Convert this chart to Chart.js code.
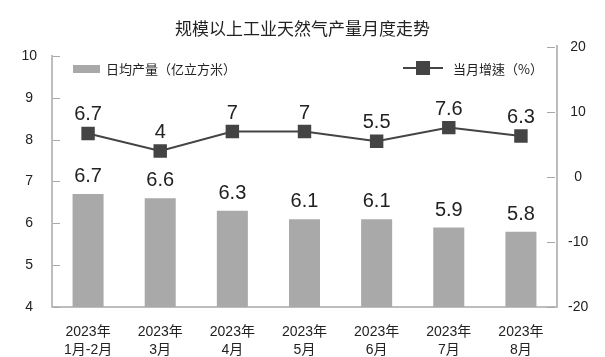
<!DOCTYPE html>
<html>
<head>
<meta charset="utf-8">
<script src="https://cdn.jsdelivr.net/npm/chart.js@4.4.0/dist/chart.umd.min.js"></script>
<style>
html,body{margin:0;padding:0;background:#fff;}
canvas{display:block;}
</style>
</head>
<body>
<canvas id="c" width="605" height="357"></canvas>
<script>
const chartTitle = '规模以上工业天然气产量月度走势';
const categories = [
  ['2023年', '1月-2月'],
  ['2023年', '3月'],
  ['2023年', '4月'],
  ['2023年', '5月'],
  ['2023年', '6月'],
  ['2023年', '7月'],
  ['2023年', '8月']
];
const barLabel = '日均产量（亿立方米）';
const dailyOutput = [6.7, 6.6, 6.3, 6.1, 6.1, 5.9, 5.8];
const lineLabel = '当月增速（%）';
const monthlyGrowth = [6.7, 4, 7, 7, 5.5, 7.6, 6.3];
const leftTicks = [4, 5, 6, 7, 8, 9, 10];
const rightTicks = [-20, -10, 0, 10, 20];

const NUM_FONT = '"Liberation Sans", Arial, "Noto Sans CJK SC", sans-serif';
const CJK_FONT = '"Liberation Sans", "Noto Sans CJK SC", sans-serif';
const LEGEND_FONT = '"Noto Sans CJK TC", "Noto Sans CJK SC", sans-serif';
const BAR_COLOR = '#a9a9a9';
const LINE_COLOR = '#444444';
const AXIS_COLOR = '#a8a8a8';
const TEXT_COLOR = '#222222';

const axesPlugin = {
  id: 'axesPlugin',
  beforeDatasetsDraw(chart) {
    const ctx = chart.ctx;
    const ca = chart.chartArea;
    const yl = chart.scales.y, yr = chart.scales.y1;
    ctx.save();
    ctx.strokeStyle = AXIS_COLOR;
    ctx.lineWidth = 1.5;
    ctx.beginPath();
    ctx.moveTo(ca.left, yl.getPixelForValue(leftTicks[leftTicks.length - 1]) - 1);
    ctx.lineTo(ca.left, ca.bottom);
    ctx.lineTo(ca.right, ca.bottom);
    ctx.lineTo(ca.right, yr.getPixelForValue(rightTicks[rightTicks.length - 1]) - 2);
    ctx.stroke();
    ctx.lineWidth = 1;
    leftTicks.forEach(v => {
      const y = Math.round(yl.getPixelForValue(v)) + 0.5;
      ctx.beginPath();
      ctx.moveTo(ca.left + 1, y);
      ctx.lineTo(ca.left + 8, y);
      ctx.stroke();
    });
    rightTicks.forEach(v => {
      const y = Math.round(yr.getPixelForValue(v)) + 0.5;
      ctx.beginPath();
      ctx.moveTo(ca.right - 10, y);
      ctx.lineTo(ca.right - 2, y);
      ctx.stroke();
    });
    ctx.restore();
  }
};

const labelsPlugin = {
  id: 'labelsPlugin',
  afterDatasetsDraw(chart) {
    const ctx = chart.ctx;
    ctx.save();
    ctx.font = '20px ' + NUM_FONT;
    ctx.fillStyle = TEXT_COLOR;
    ctx.textAlign = 'center';
    ctx.textBaseline = 'alphabetic';
    chart.data.datasets.forEach((ds, i) => {
      const meta = chart.getDatasetMeta(i);
      meta.data.forEach((el, j) => {
        const txt = String(ds.data[j]);
        const off = ds.type === 'bar' ? 12 : 13;
        ctx.fillText(txt, el.x, el.y - off);
      });
    });
    ctx.restore();
  }
};

const legendPlugin = {
  id: 'legendPlugin',
  afterDraw(chart) {
    const ctx = chart.ctx;
    ctx.save();
    ctx.font = '13px ' + LEGEND_FONT;
    ctx.textBaseline = 'middle';
    ctx.textAlign = 'left';
    ctx.fillStyle = BAR_COLOR;
    ctx.fillRect(73, 65, 27, 8);
    ctx.fillStyle = TEXT_COLOR;
    ctx.fillText(barLabel, 106, 69);
    ctx.strokeStyle = LINE_COLOR;
    ctx.lineWidth = 2;
    ctx.beginPath();
    ctx.moveTo(403, 68);
    ctx.lineTo(443, 68);
    ctx.stroke();
    ctx.fillStyle = LINE_COLOR;
    ctx.fillRect(416, 61, 14, 14);
    ctx.fillStyle = TEXT_COLOR;
    ctx.fillText(lineLabel, 453, 69);
    ctx.restore();
  }
};

new Chart(document.getElementById('c'), {
  data: {
    labels: categories,
    datasets: [
      {
        type: 'line',
        label: lineLabel,
        data: monthlyGrowth,
        yAxisID: 'y1',
        borderColor: LINE_COLOR,
        borderWidth: 2,
        backgroundColor: LINE_COLOR,
        pointStyle: 'rect',
        pointRadius: 9.5,
        pointBorderWidth: 0,
        pointBackgroundColor: LINE_COLOR,
        tension: 0,
        order: 1
      },
      {
        type: 'bar',
        label: barLabel,
        data: dailyOutput,
        yAxisID: 'y',
        backgroundColor: BAR_COLOR,
        borderWidth: 0,
        categoryPercentage: 1,
        barPercentage: 0.43,
        order: 2
      }
    ]
  },
  options: {
    responsive: false,
    animation: false,
    layout: { padding: { left: 0, right: 0, top: 0, bottom: 0 } },
    plugins: {
      legend: { display: false },
      tooltip: { enabled: false },
      title: {
        display: true,
        text: chartTitle,
        color: TEXT_COLOR,
        font: { family: '"Noto Sans CJK SC", sans-serif', size: 17, weight: '400', lineHeight: 1.2 },
        padding: { top: 18, bottom: 8.6 }
      }
    },
    scales: {
      x: {
        offset: true,
        grid: { display: false },
        border: { display: false },
        ticks: {
          color: TEXT_COLOR,
          font: { family: CJK_FONT, size: 14, lineHeight: 1.3 },
          padding: 8,
          maxRotation: 0,
          autoSkip: false
        },
        afterFit(s) { s.height = 50; }
      },
      y: {
        position: 'left',
        min: 4,
        max: 10.215,
        grid: { display: false, drawTicks: false },
        border: { display: false },
        ticks: {
          color: TEXT_COLOR,
          font: { family: NUM_FONT, size: 14 },
          padding: 15,
          crossAlign: 'center'
        },
        afterBuildTicks(s) { s.ticks = leftTicks.map(v => ({ value: v })); },
        afterFit(s) { s.width = 52; }
      },
      y1: {
        position: 'right',
        min: -20,
        max: 20,
        grid: { display: false, drawTicks: false },
        border: { display: false },
        ticks: {
          color: TEXT_COLOR,
          font: { family: NUM_FONT, size: 14 },
          padding: 11,
          crossAlign: 'center'
        },
        afterBuildTicks(s) { s.ticks = rightTicks.map(v => ({ value: v })); },
        afterFit(s) { s.width = 48; }
      }
    }
  },
  plugins: [axesPlugin, labelsPlugin, legendPlugin]
});
</script>
</body>
</html>
